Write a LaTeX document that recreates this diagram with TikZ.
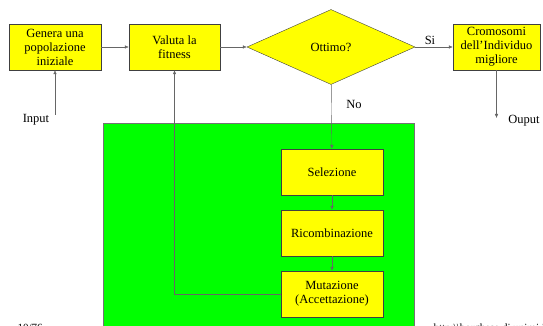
\documentclass[tikz,border=0pt]{standalone}
\usepackage{fontspec}
\setmainfont{Liberation Serif}
\usetikzlibrary{shapes.geometric,arrows.meta}
\definecolor{boxyellow}{RGB}{255,255,0}
\definecolor{areagreen}{RGB}{0,255,0}
\begin{document}
\begin{tikzpicture}[x=1pt,y=-1pt,font=\fontsize{12.5}{14}\selectfont,
        blocco/.style={draw=black!75, fill=boxyellow, minimum width=92pt, minimum height=46pt, align=center, inner sep=1pt},
        freccia/.style={draw=black!60, -{Latex[length=4pt,width=3.5pt]}}]
        \useasboundingbox (0,0) rectangle (543,326);
        \clip (0,0) rectangle (543,326);

        % area verde del ciclo
        \filldraw[fill=areagreen, draw=black!55] (103,123) rectangle (414,345);

        \node[blocco] (gen) at (55,47) {Genera una\\popolazione\\iniziale};
        \node[blocco, minimum width=91pt] (val) at (174.5,47) {Valuta la\\fitness};
        \node[draw=black!75, fill=boxyellow, diamond, aspect=2.24, minimum width=168pt, minimum height=75pt, inner sep=0pt] (ott) at (331,47) {Ottimo?};
        \node[blocco, minimum width=87pt] (crom) at (496.5,47) {Cromosomi\\dell'Individuo\\migliore};

        \foreach \name/\y/\txt in {sel/172/Selezione, ric/233/Ricombinazione, mut/294/{Mutazione\\(Accettazione)}}
            \node[blocco, minimum width=102pt] (\name) at (332,\y) {\txt};

        \coordinate (in) at (55,115);
        \coordinate (out) at (496.5,118);
        \node (inlab) at (36,120) {Input};
        \node (outlab) at (524,121) {Ouput};
        \node (si) at (430,40) {Si};
        \node (no) at (354,104) {No};

        \draw[freccia] (gen) -- (val);
        \draw[freccia] (val) -- (ott);
        \draw[freccia] (ott) -- (crom);
        \draw[freccia] (in) -- (gen);
        \draw[freccia] (crom) -- (out);
        \draw[freccia] (ott) -- (sel);
        \draw[freccia] (sel) -- (ric);
        \draw[freccia] (ric) -- (mut);
        \draw[freccia] (mut.west) -| (val.south);

        \node[anchor=base west, font=\fontsize{11}{13}\selectfont] (pag) at (14,331) {10/76};
        \node[anchor=base west, font=\fontsize{11}{13}\selectfont] (url) at (430,331) {http:\textbackslash\textbackslash borghese.di.unimi.it/};
    \end{tikzpicture}
\end{document}
